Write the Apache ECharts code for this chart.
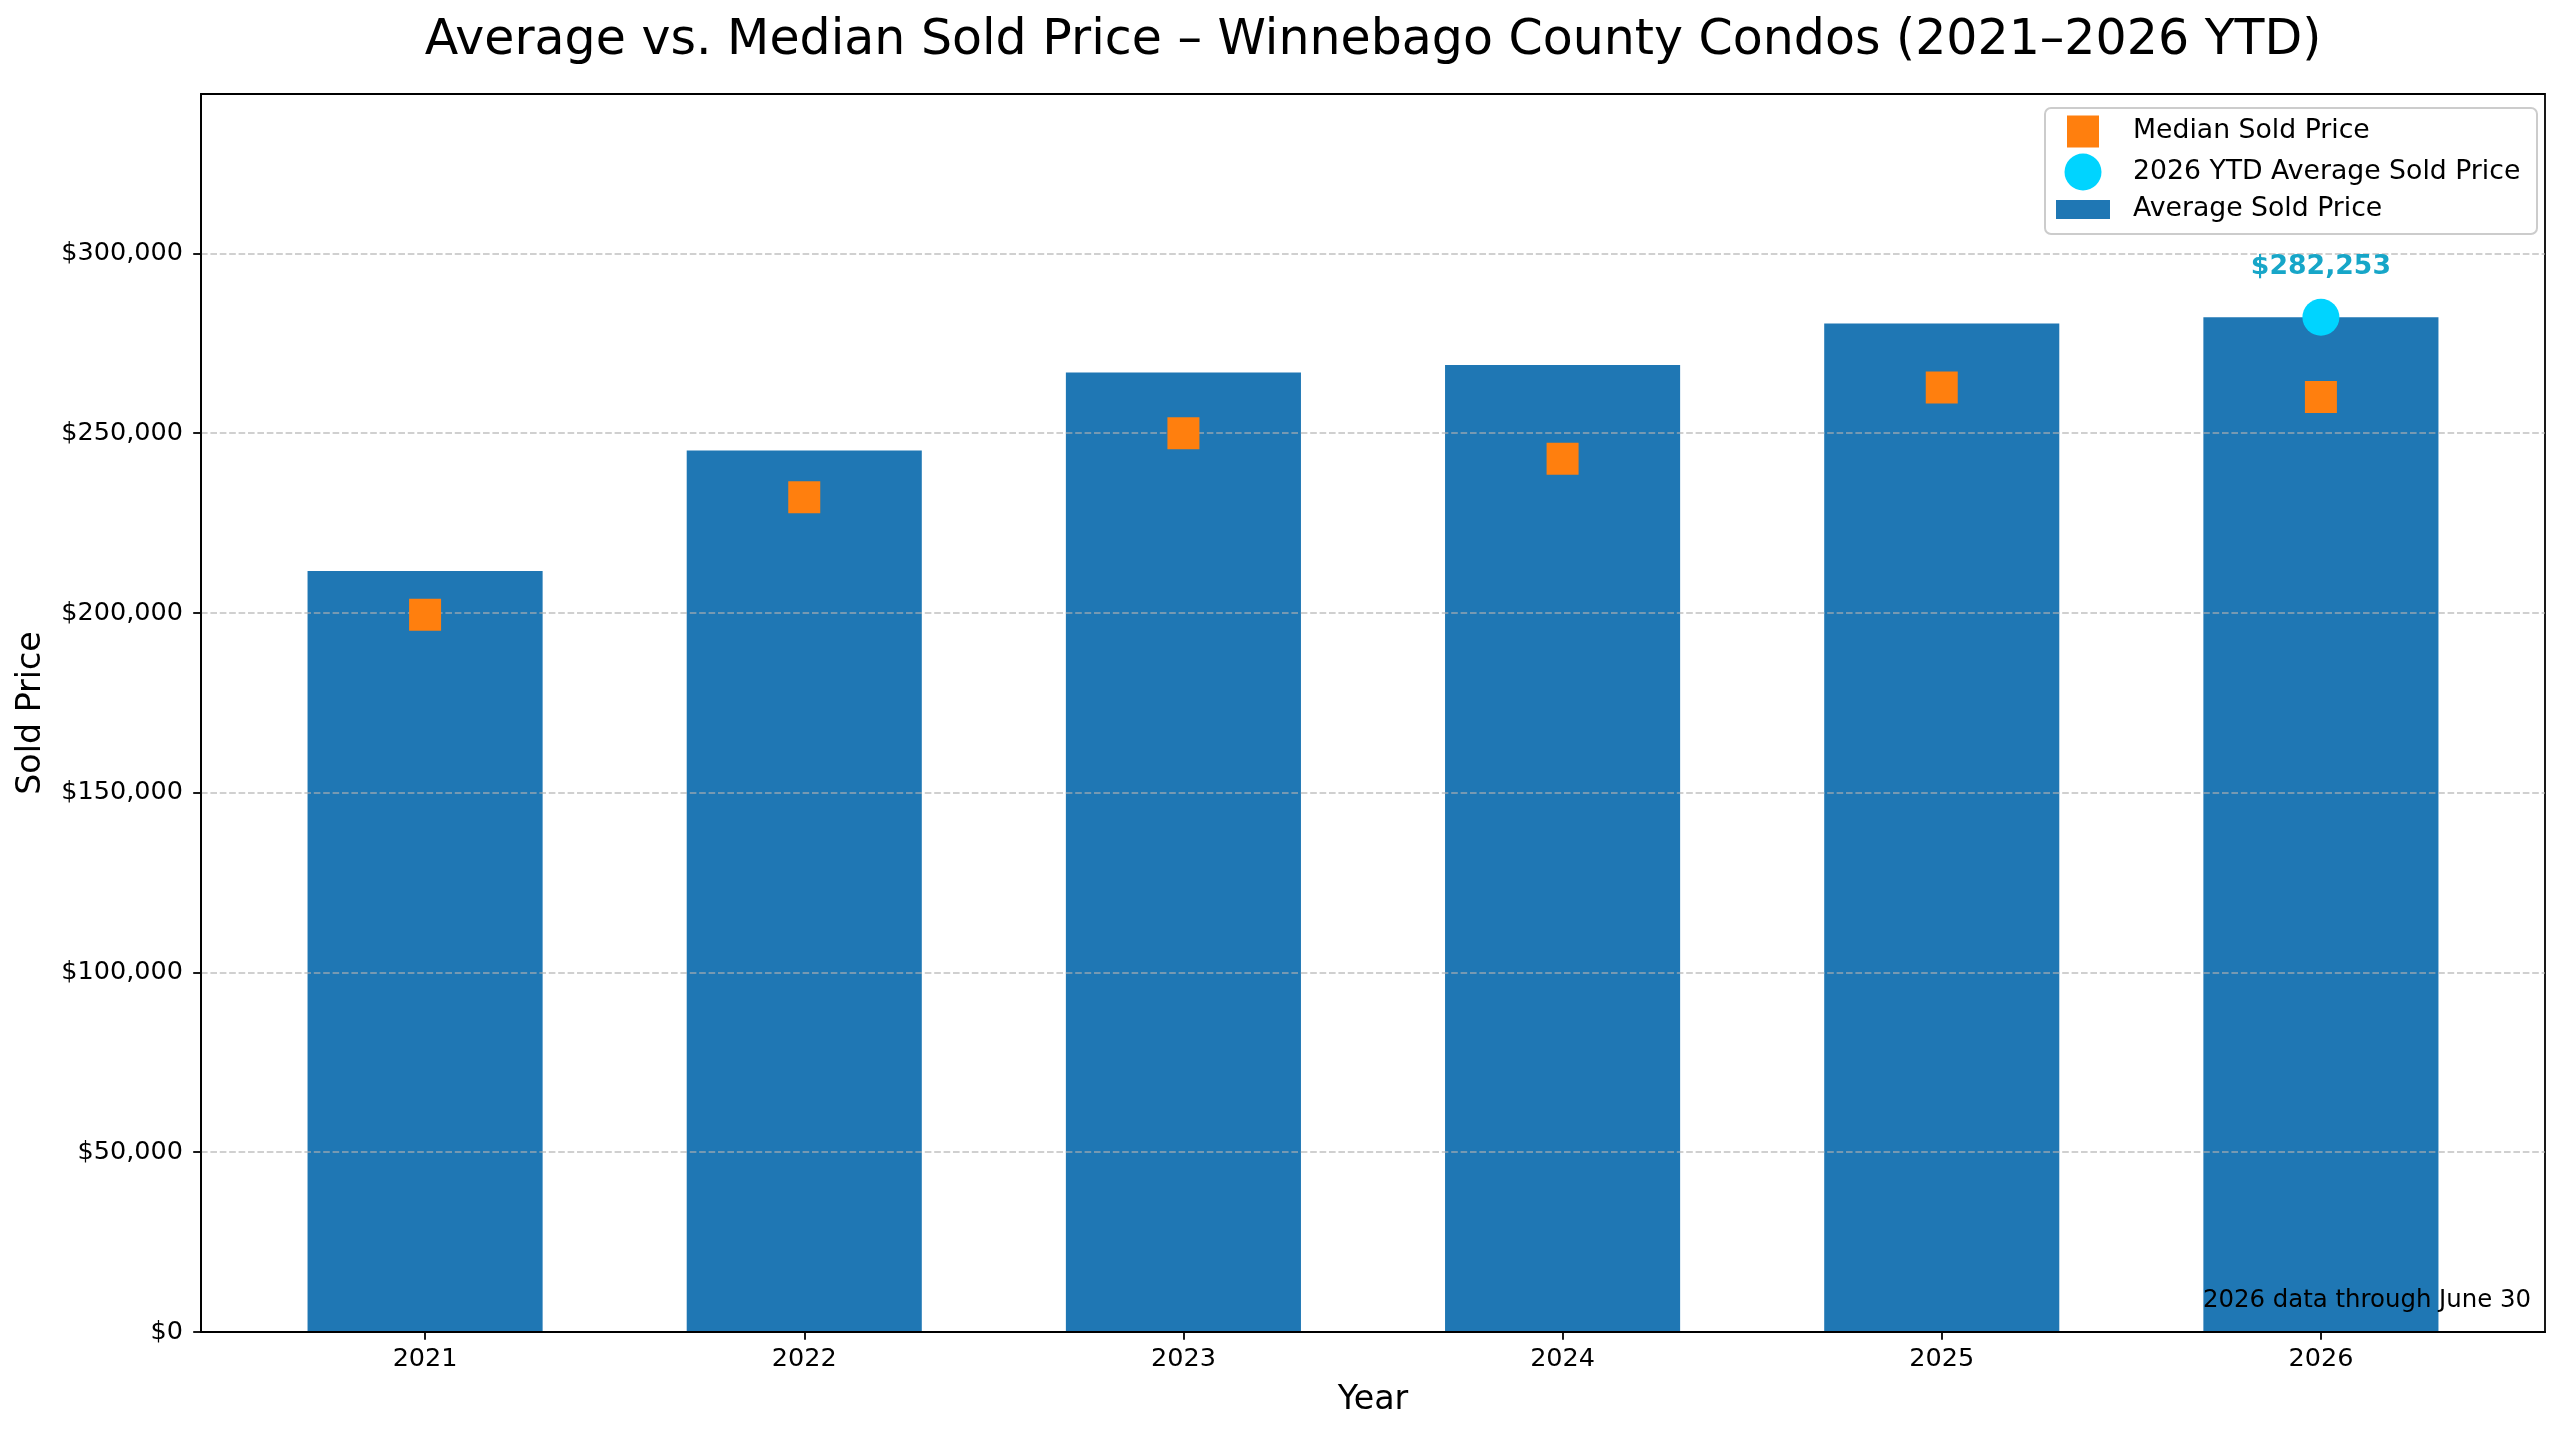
<!DOCTYPE html>
<html>
<head>
<meta charset="utf-8">
<title>Winnebago County Condos</title>
<script src="https://cdn.jsdelivr.net/npm/echarts@6/dist/echarts.min.js"></script>
<style>
  html, body { margin: 0; padding: 0; background: #fff; }
  #main { width: 2560px; height: 1431px; }
</style>
</head>
<body>
<div id="main"></div>
<script>
// data
var years = ["2021", "2022", "2023", "2024", "2025", "2026"];
var avgPrice = [211700, 245200, 266900, 269000, 280500, 282253];
var medianPrice = [199500, 232200, 250000, 242900, 262700, 260100];
var yTicks = [0, 50000, 100000, 150000, 200000, 250000, 300000];
var yMax = 344350;

var FONT = "DejaVu Sans";
var BAR_FRAC = 0.62; // bar width as a share of one year

function money(v) {
  return "$" + Math.round(v).toLocaleString("en-US");
}

var idx = years.map(function (y, i) { return i; });
var avgData = avgPrice.map(function (v, i) { return [i, v]; });
var medianData = medianPrice.map(function (v, i) { return [i, v]; });
var last = years.length - 1;
var ytdData = [[last, avgPrice[last]]];

var chart = echarts.init(document.getElementById("main"));

chart.setOption({
  animation: false,
  backgroundColor: "#ffffff",
  textStyle: { fontFamily: FONT },
  title: {
    text: "Average vs. Median Sold Price – Winnebago County Condos (2021–2026 YTD)",
    left: 1373,
    textAlign: "center",
    top: 17,
    padding: 0,
    textStyle: { fontFamily: FONT, fontSize: 49, fontWeight: "normal", color: "#000" },
  },
  grid: {
    left: 201,
    right: 15,
    top: 94,
    bottom: 99,
    show: true,
    borderColor: "#000",
    borderWidth: 1.8,
    backgroundColor: "transparent",
  },
  // one legend per entry so each icon keeps its own shape and size
  legend: [
    {
      data: [{ name: "Median Sold Price", icon: "rect" }],
      orient: "vertical",
      left: 2067, top: 113.5, padding: 0,
      itemWidth: 32, itemHeight: 32,
      textStyle: { fontFamily: FONT, fontSize: 26.7, color: "#000", lineHeight: 36, padding: [0, 0, 0, 29] },
    },
    {
      data: [{ name: "2026 YTD Average Sold Price", icon: "circle" }],
      orient: "vertical",
      left: 2064.5, top: 153.5, padding: 0,
      itemWidth: 37, itemHeight: 37,
      textStyle: { fontFamily: FONT, fontSize: 26.7, color: "#000", lineHeight: 36, padding: [0, 0, 0, 26.5] },
    },
    {
      data: [{ name: "Average Sold Price", icon: "rect" }],
      orient: "vertical",
      left: 2056, top: 191.5, padding: 0,
      itemWidth: 54, itemHeight: 19,
      textStyle: { fontFamily: FONT, fontSize: 26.7, color: "#000", lineHeight: 36, padding: [0, 0, 0, 18] },
    },
  ],
  graphic: [
    {
      type: "rect",
      z: 0,
      shape: { x: 2045, y: 108, width: 492, height: 126, r: 6 },
      style: { fill: "rgba(255,255,255,0.8)", stroke: "#cccccc", lineWidth: 2 },
    },
    {
      type: "text",
      right: 29,
      bottom: 118,
      z: 10,
      style: { text: "2026 data through June 30", font: "24.4px 'DejaVu Sans'", fill: "#000" },
    },
  ],
  xAxis: {
    type: "value",
    min: -0.591,
    max: 5.591,
    z: 6,
    name: "Year",
    nameLocation: "middle",
    nameGap: 52,
    nameTextStyle: { fontFamily: FONT, fontSize: 33.3, color: "#000" },
    axisLine: { show: true, onZero: false, lineStyle: { color: "#000", width: 1.8 } },
    axisTick: { show: true, customValues: idx, length: 7.8, lineStyle: { color: "#000", width: 1.8 } },
    axisLabel: {
      customValues: idx,
      margin: 14,
      fontFamily: FONT,
      fontSize: 25.5,
      color: "#000",
      formatter: function (v) { return years[Math.round(v)]; },
    },
    splitLine: { show: false },
  },
  yAxis: {
    type: "value",
    min: 0,
    max: yMax,
    z: 5,
    name: "Sold Price",
    nameLocation: "middle",
    nameRotate: 90,
    nameGap: 153,
    nameTextStyle: { fontFamily: FONT, fontSize: 33.3, color: "#000" },
    axisLine: { show: true, onZero: false, lineStyle: { color: "#000", width: 1.8 } },
    axisTick: { show: true, customValues: yTicks, length: 7.8, lineStyle: { color: "#000", width: 1.8 } },
    axisLabel: {
      customValues: yTicks,
      margin: 18,
      fontFamily: FONT,
      fontSize: 25.5,
      color: "#000",
      formatter: money,
    },
    splitLine: {
      show: true,
      lineStyle: { color: "rgba(176,176,176,0.6)", width: 1.8, type: [6.6, 2.8] },
    },
  },
  series: [
    {
      id: "avg",
      name: "Average Sold Price",
      type: "bar",
      data: avgData,
      barWidth: 235,
      itemStyle: { color: "#1f77b4" },
      z: 2,
    },
    {
      name: "Median Sold Price",
      type: "scatter",
      symbol: "rect",
      symbolSize: 32,
      data: medianData,
      itemStyle: { color: "#ff7f0e", opacity: 1 },
      z: 6,
    },
    {
      name: "2026 YTD Average Sold Price",
      type: "scatter",
      symbol: "circle",
      symbolSize: 37,
      data: ytdData,
      itemStyle: { color: "#00d4ff", opacity: 1 },
      label: {
        show: true,
        position: "inside",
        offset: [0, -50],
        formatter: function (p) { return money(p.value[1]); },
        fontFamily: FONT,
        fontSize: 26.7,
        fontWeight: "bold",
        color: "#17a6c8",
      },
      z: 7,
    },
  ],
});

// bar width = share of one x unit, measured on the axis itself
var px = chart.convertToPixel({ xAxisIndex: 0 }, BAR_FRAC / 2) -
         chart.convertToPixel({ xAxisIndex: 0 }, -BAR_FRAC / 2);
chart.setOption({ series: [{ id: "avg", barWidth: px }] });
</script>
</body>
</html>
